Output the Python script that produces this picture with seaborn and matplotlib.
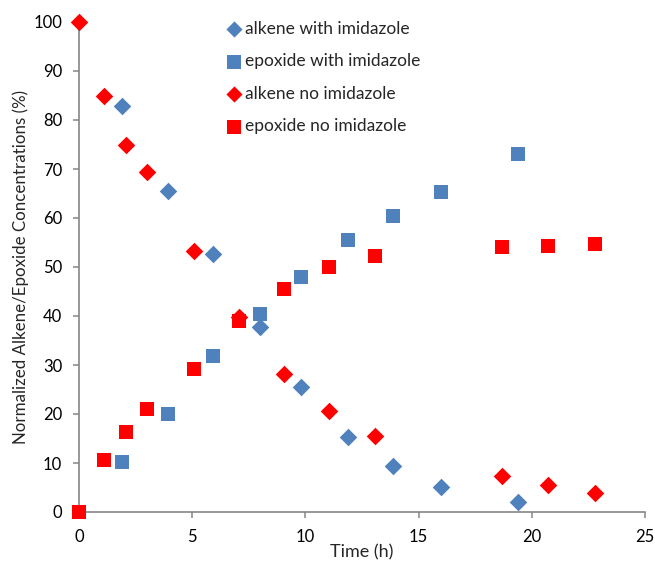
import matplotlib
matplotlib.use("Agg")
import matplotlib.pyplot as plt
import seaborn as sns
import pandas as pd

# ---- data ----
t_with = [1.90, 3.93, 5.92, 7.99, 9.80, 11.88, 13.89, 15.98, 19.38]
alkene_with = [82.9, 65.6, 52.6, 37.8, 25.5, 15.3, 9.4, 5.2, 2.0]
epoxide_with = [10.2, 20.0, 31.8, 40.5, 48.0, 55.5, 60.4, 65.3, 73.1]

t_no = [0.0, 1.09, 2.08, 3.02, 5.07, 7.08, 9.07, 11.05, 13.08, 18.68, 20.72, 22.77]
alkene_no = [100.0, 84.8, 75.0, 69.3, 53.2, 39.8, 28.2, 20.7, 15.5, 7.3, 5.6, 3.9]
epoxide_no = [0.0, 10.7, 16.4, 21.1, 29.2, 39.0, 45.5, 50.0, 52.2, 54.0, 54.3, 54.7]

labels = ["alkene with imidazole", "epoxide with imidazole",
          "alkene no imidazole", "epoxide no imidazole"]
x_ticks = [0, 5, 10, 15, 20, 25]
y_ticks = [0, 10, 20, 30, 40, 50, 60, 70, 80, 90, 100]

BLUE = "#4F81BD"
RED = "#FF0000"

sns.set_style("white")
plt.rcParams["font.family"] = ["Lato", "DejaVu Sans"]

fig = plt.figure(figsize=(6.55, 5.62), dpi=100)
ax = fig.add_axes([79 / 655, 1 - 512 / 562, (645 - 79) / 655, (512 - 22) / 562])

series = [
    (t_with, alkene_with, labels[0], BLUE, "D", 80),
    (t_with, epoxide_with, labels[1], BLUE, "s", 108),
    (t_no, alkene_no, labels[2], RED, "D", 80),
    (t_no, epoxide_no, labels[3], RED, "s", 108),
]
for xs, ys, lab, col, mk, size in series:
    df = pd.DataFrame({"x": xs, "y": ys})
    sns.scatterplot(data=df, x="x", y="y", ax=ax, color=col, marker=mk, s=size,
                    linewidth=0, label=lab, clip_on=False, zorder=3)

ax.set_xlim(0, 25)
ax.set_ylim(0, 100)
ax.set_xticks(x_ticks)
ax.set_yticks(y_ticks)
ax.set_xlabel("Time (h)", fontsize=13, labelpad=0)
ax.set_ylabel("Normalized Alkene/Epoxide Concentrations (%)", fontsize=12.2, labelpad=3)

for side in ["top", "right"]:
    ax.spines[side].set_visible(False)
for side in ["left", "bottom"]:
    ax.spines[side].set_color("#868686")
    ax.spines[side].set_linewidth(1.2)
ax.tick_params(axis="both", which="major", direction="out", length=4.5, width=1.1,
               color="#868686", labelsize=12, labelcolor="black",
               left=True, bottom=True)
ax.tick_params(axis="y", pad=7.5)
ax.tick_params(axis="x", pad=7.5)

leg = ax.legend(loc="upper left", bbox_to_anchor=(215 / 655, 1 - 12 / 562),
                bbox_transform=fig.transFigure, frameon=False, fontsize=12.5,
                labelspacing=0.95, handletextpad=0.0, handlelength=1.2,
                borderpad=0, markerscale=0.92)

fig.savefig("out.png", dpi=100)
